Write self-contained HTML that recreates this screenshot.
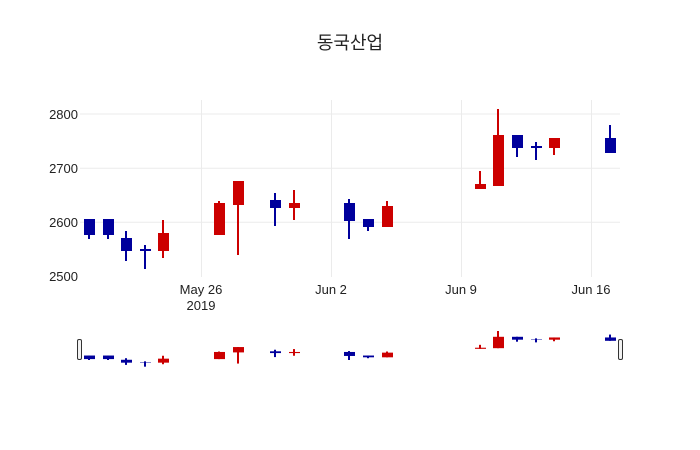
<!DOCTYPE html>
<html><head><meta charset="utf-8"><style>html,body{margin:0;padding:0;background:#fff}svg{display:block}rect.b{stroke:none}line{vector-effect:non-scaling-stroke}</style></head>
<body>
<svg width="700" height="450" xmlns="http://www.w3.org/2000/svg" font-family="'Liberation Sans','DejaVu Sans',sans-serif">
<rect width="700" height="450" fill="#fff"/>
<text x="350" y="49" text-anchor="middle" font-size="18" fill="#222" font-family="'Liberation Sans','Noto Sans CJK KR',sans-serif">동국산업</text>
<g stroke="#ebebeb" stroke-width="1">
<line x1="80" x2="620" y1="114" y2="114"/><line x1="80" x2="620" y1="168.3" y2="168.3"/><line x1="80" x2="620" y1="222.3" y2="222.3"/>
<line x1="201.5" x2="201.5" y1="100" y2="277"/><line x1="331.5" x2="331.5" y1="100" y2="277"/><line x1="461.5" x2="461.5" y1="100" y2="277"/><line x1="591.5" x2="591.5" y1="100" y2="277"/>
</g>
<g font-size="13" fill="#222" text-anchor="end">
<text x="78" y="119">2800</text><text x="78" y="173">2700</text><text x="78" y="227">2600</text><text x="78" y="281">2500</text>
</g>
<g font-size="13" fill="#222" text-anchor="middle">
<text x="201" y="294">May 26</text><text x="201" y="310">2019</text>
<text x="331" y="294">Jun 2</text><text x="461" y="294">Jun 9</text><text x="591" y="294">Jun 16</text>
</g>
<defs>
<g id="cs">
<g stroke="#00009c" fill="#00009c" stroke-width="2">
<line x1="89" x2="89" y1="219" y2="239"/><rect class="b" x="84" y="219" width="11" height="16"/>
<line x1="108" x2="108" y1="219" y2="239"/><rect class="b" x="103" y="219" width="11" height="16"/>
<line x1="126" x2="126" y1="231" y2="261"/><rect class="b" x="121" y="238" width="11" height="13"/>
<line x1="145" x2="145" y1="245" y2="269"/><rect class="b" x="140" y="249" width="11" height="2"/>
<line x1="275" x2="275" y1="193" y2="226"/><rect class="b" x="270" y="200" width="11" height="8"/>
<line x1="349" x2="349" y1="199" y2="239"/><rect class="b" x="344" y="203" width="11" height="18"/>
<line x1="368" x2="368" y1="219" y2="231"/><rect class="b" x="363" y="219" width="11" height="8"/>
<line x1="517" x2="517" y1="135" y2="157"/><rect class="b" x="512" y="135" width="11" height="13"/>
<line x1="536" x2="536" y1="142" y2="160"/><rect class="b" x="531" y="146" width="11" height="2"/>
<line x1="610" x2="610" y1="125" y2="153"/><rect class="b" x="605" y="138" width="11" height="15"/>
</g>
<g stroke="#cc0000" fill="#cc0000" stroke-width="2">
<line x1="163" x2="163" y1="220" y2="258"/><rect class="b" x="158" y="233" width="11" height="18"/>
<line x1="219" x2="219" y1="201" y2="235"/><rect class="b" x="214" y="203" width="11" height="32"/>
<line x1="238" x2="238" y1="181" y2="255"/><rect class="b" x="233" y="181" width="11" height="24"/>
<line x1="294" x2="294" y1="190" y2="220"/><rect class="b" x="289" y="203" width="11" height="5"/>
<line x1="387" x2="387" y1="201" y2="227"/><rect class="b" x="382" y="206" width="11" height="21"/>
<line x1="480" x2="480" y1="171" y2="189"/><rect class="b" x="475" y="184" width="11" height="5"/>
<line x1="498" x2="498" y1="109" y2="186"/><rect class="b" x="493" y="135" width="11" height="51"/>
<line x1="554" x2="554" y1="138" y2="155"/><rect class="b" x="549" y="138" width="11" height="10"/>
</g>
</g>
</defs>
<use href="#cs"/>
<g transform="translate(0,331) scale(1,0.223) translate(0,-109)">
<use href="#cs"/>
</g>
<rect x="77.5" y="339.5" width="4" height="20" rx="1.5" fill="#f2f2f2" stroke="#333" stroke-width="1"/>
<rect x="618.5" y="339.5" width="4" height="20" rx="1.5" fill="#f2f2f2" stroke="#333" stroke-width="1"/>
</svg>
</body></html>
